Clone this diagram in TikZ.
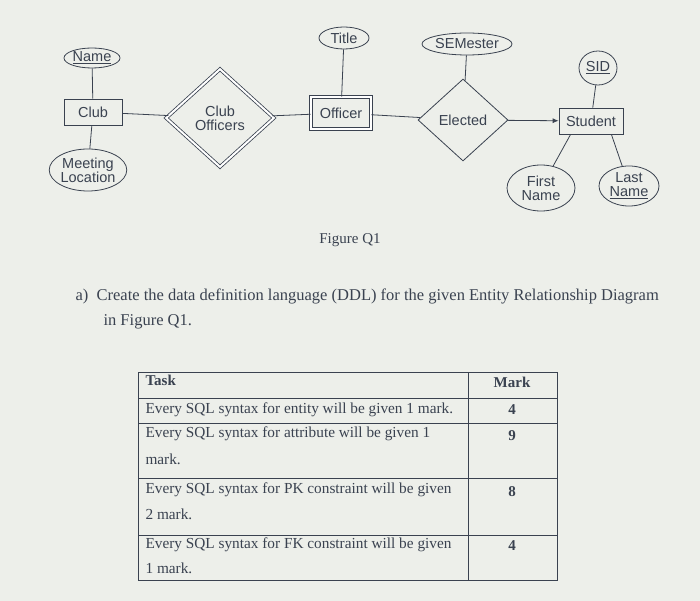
\documentclass[tikz,border=0pt]{standalone}
\usepackage{fontspec}
\setmainfont{Liberation Serif}
\newfontfamily\sansf{Liberation Sans}
\usetikzlibrary{shapes.geometric,arrows.meta}
\definecolor{bg}{HTML}{EDEFEA}
\definecolor{ink}{HTML}{3A4250}
\begin{document}
\begin{tikzpicture}[x=1pt,y=-1pt,
  every node/.style={text=ink},
  lbl/.style={font=\sansf\fontsize{14.5}{14}\selectfont},
  attr/.style={ellipse,draw=ink,thick,inner sep=0pt,lbl,align=center},
  ent/.style={rectangle,draw=ink,thick,lbl},
  rel/.style={diamond,draw=ink,thick,lbl,align=center,inner sep=0pt},
  ln/.style={draw=ink,thick},
  tf/.style={font=\fontsize{15.3}{16}\selectfont},
  tb/.style={font=\bfseries\fontsize{15}{16}\selectfont}]
\fill[bg] (0,0) rectangle (700,601);
\useasboundingbox (0,0) rectangle (700,601);
% entities
\node[ent,minimum width=58,minimum height=26] (club) at (93,112) {Club};
\node[ent,double,double distance=2pt,minimum width=60,minimum height=32] (off) at (341,113) {Officer};
\node[ent,minimum width=64,minimum height=26] (stu) at (591,121) {Student};
% relationships
\node[rel,double,double distance=2pt,minimum width=108,minimum height=98] (co) at (220,118) {Club\\Officers};
\node[rel,minimum width=90,minimum height=82] (el) at (463,120) {Elected};
% attributes
\node[attr,minimum width=56,minimum height=20] (name) at (92,58) {\underline{Name}};
\node[attr,minimum width=76,minimum height=42] (ml) at (88,170) {Meeting\\Location};
\node[attr,minimum width=50,minimum height=22] (title) at (344,38) {Title};
\node[attr,minimum width=86,minimum height=22] (sem) at (467,44) {SEMester};
\node[attr,minimum width=38,minimum height=34] (sid) at (598,68) {\underline{SID}};
\node[attr,minimum width=68,minimum height=46] (fn) at (541,188) {First\\Name};
\node[attr,minimum width=60,minimum height=40] (lnm) at (629,186) {Last\\\underline{Name}};
% connectors
\draw[ln] (name) -- (club);
\draw[ln] (club) -- (ml);
\draw[ln] (club) -- (co);
\draw[ln] (co) -- (off);
\draw[ln] (title) -- (off);
\draw[ln] (off) -- (el);
\draw[ln] (sem) -- (el);
\draw[ln,-{Latex[length=6pt,width=5pt]}] (el) -- (stu);
\draw[ln] (sid) -- (stu);
\draw[ln] (stu.south west) ++(12,0) coordinate (s1) -- (fn);
\draw[ln] (stu.south east) ++(-12,0) coordinate (s2) -- (lnm);
% caption and question
\node[font=\fontsize{15}{16}\selectfont] (cap) at (350,240) {Figure Q1};
\node[anchor=west,font=\fontsize{16.5}{18}\selectfont] (qa) at (72,296) {a)\ \ Create the data definition language (DDL) for the given Entity Relationship Diagram};
\node[anchor=west,font=\fontsize{16.5}{18}\selectfont] (qb) at (100,322) {in Figure Q1.};
% table
\draw[ink,semithick] (138,372) rectangle (557,580);
\draw[ink,semithick] (468,372) -- (468,580);
\foreach \y in {398,423,478,535} \draw[ink,semithick] (138,\y) -- (557,\y);
\node[anchor=west,tb] (t0) at (142,380) {Task};
\node[tb] (m0) at (512,382) {Mark};
\node[anchor=west,tf] (t1) at (142,410) {Every SQL syntax for entity will be given 1 mark.};
\node[tb] (m1) at (512,410) {4};
\node[anchor=west,tf] (t2) at (142,434) {Every SQL syntax for attribute will be given 1};
\node[anchor=west,tf] (t2b) at (142,459) {mark.};
\node[tb] (m2) at (512,436) {9};
\node[anchor=west,tf] (t3) at (142,490) {Every SQL syntax for PK constraint will be given};
\node[anchor=west,tf] (t3b) at (142,514) {2 mark.};
\node[tb] (m3) at (512,492) {8};
\node[anchor=west,tf] (t4) at (142,545) {Every SQL syntax for FK constraint will be given};
\node[anchor=west,tf] (t4b) at (142,568) {1 mark.};
\node[tb] (m4) at (512,546) {4};
\end{tikzpicture}
\end{document}
